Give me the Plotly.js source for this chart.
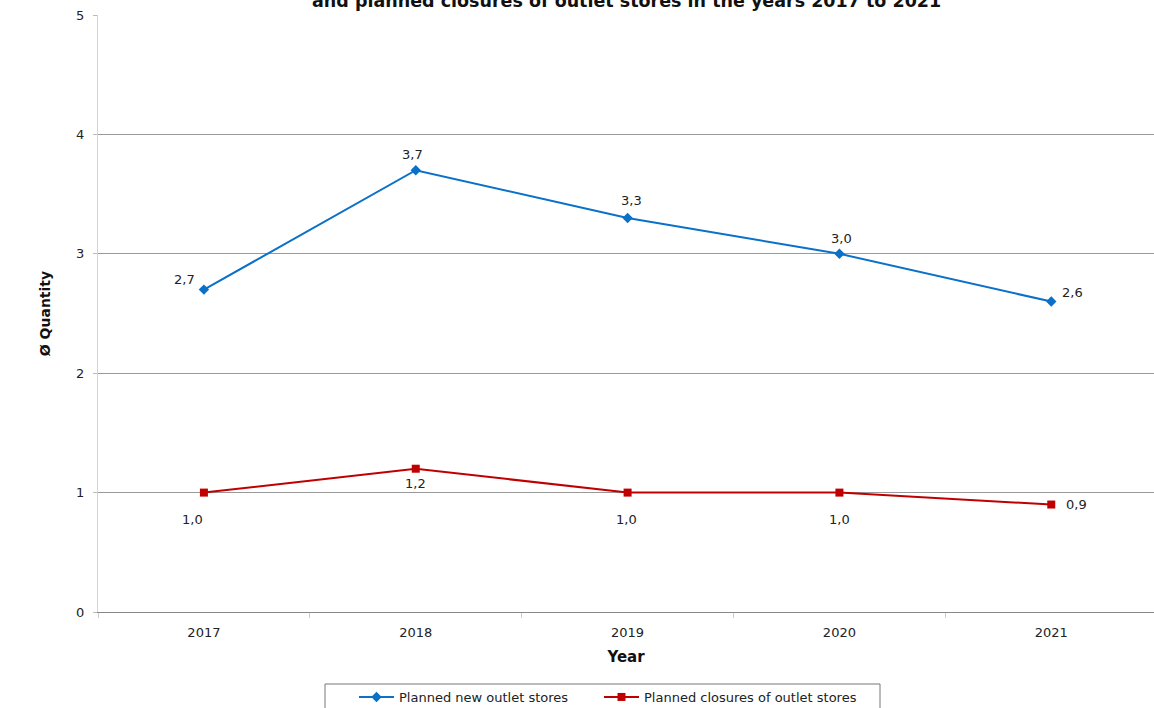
<!DOCTYPE html>
<html>
<head>
<meta charset="utf-8">
<script src="https://cdn.plot.ly/plotly-3.0.1.min.js"></script>
<style>html,body{margin:0;padding:0;background:#fff;}#chart{width:1154px;height:708px;}</style>
</head>
<body>
<div id="chart"></div>
<script>
const years = ["2017", "2018", "2019", "2020", "2021"];
const plannedNew = [2.7, 3.7, 3.3, 3.0, 2.6];
const plannedClosures = [1.0, 1.2, 1.0, 1.0, 0.9];
const seriesNames = ["Planned new outlet stores", "Planned closures of outlet stores"];
const titleText = "and planned closures of outlet stores in the years 2017 to 2021";

// label pixel offsets (style only)
const newLabelShift = [[-19, 10], [-3, 16], [4, 17], [2, 15], [21, 9]];
const closLabelShift = [[-11, -27], [0, -15], [-1, -27], [0, -27], [25, 0]];

const FONT = "DejaVu Sans, Verdana, sans-serif";
const BLUE = "#0A70C8", RED = "#C00000";

const traces = [
  {
    x: years, y: plannedNew, name: seriesNames[0], type: "scatter", mode: "lines+markers",
    line: {color: BLUE, width: 2},
    marker: {symbol: "diamond", size: 8, color: BLUE},
    legend: "legend"
  },
  {
    x: years, y: plannedClosures, name: seriesNames[1], type: "scatter", mode: "lines+markers",
    line: {color: RED, width: 2},
    marker: {symbol: "square", size: 8, color: RED},
    legend: "legend2"
  }
];

function fmt(v) { return v.toFixed(1).replace(".", ","); }

const annotations = [];
years.forEach((yr, i) => {
  annotations.push({x: i, y: plannedNew[i], xref: "x", yref: "y", text: fmt(plannedNew[i]),
    showarrow: false, xshift: newLabelShift[i][0], yshift: newLabelShift[i][1],
    font: {family: FONT, size: 13, color: "#222"}});
  annotations.push({x: i, y: plannedClosures[i], xref: "x", yref: "y", text: fmt(plannedClosures[i]),
    showarrow: false, xshift: closLabelShift[i][0], yshift: closLabelShift[i][1],
    font: {family: FONT, size: 13, color: "#222"}});
});
annotations.push({
  text: "<b>" + titleText + "</b>", xref: "paper", yref: "paper",
  x: 0.5, y: 1, xanchor: "center", yanchor: "bottom", yshift: 2,
  showarrow: false, font: {family: FONT, size: 17.5, color: "#111"}
});

// px -> paper helpers for the legend frame
const PL = 98, PW = 1056, PT = 15, PH = 597;
const px2x = p => (p - PL) / PW;
const px2y = p => (PT + PH - p) / PH;

const legendBase = {
  orientation: "h", xanchor: "left", y: px2y(682), yanchor: "top",
  borderwidth: 0, bgcolor: "rgba(0,0,0,0)",
  font: {family: FONT, size: 13, color: "#222"},
  itemwidth: 35
};

const layout = {
  width: 1154, height: 708,
  margin: {l: PL, r: 0, t: PT, b: 96, autoexpand: false},
  paper_bgcolor: "#fff", plot_bgcolor: "#fff",
  separators: ",.",
  font: {family: FONT, size: 13, color: "#222"},
  showlegend: true,
  legend: Object.assign({}, legendBase, {x: px2x(354)}),
  legend2: Object.assign({}, legendBase, {x: px2x(599)}),
  shapes: [
    {type: "rect", xref: "paper", yref: "paper",
     x0: px2x(325), x1: px2x(880), y0: px2y(684), y1: px2y(720),
     line: {color: "#777", width: 1}, fillcolor: "rgba(0,0,0,0)", layer: "below"}
  ],
  xaxis: {
    type: "category", range: [-0.5, 4.485],
    showgrid: false, zeroline: false,
    showline: true, linecolor: "#888", linewidth: 1,
    ticks: "outside", tickson: "boundaries", ticklen: 5, tickcolor: "#ccc",
    ticklabelstandoff: 8,
    tickfont: {family: FONT, size: 13, color: "#222"},
    title: {text: "Year", font: {family: FONT, size: 15, color: "#111", weight: "bold"}, standoff: 12}
  },
  yaxis: {
    range: [0, 5], dtick: 1, tick0: 0,
    showgrid: true, gridcolor: "#999", gridwidth: 1,
    zeroline: false,
    showline: true, linecolor: "#d4d4d4", linewidth: 1,
    ticks: "outside", ticklen: 4, tickcolor: "#bbb",
    ticklabelstandoff: 6,
    tickfont: {family: FONT, size: 13, color: "#222"},
    title: {text: "Ø Quantity", font: {family: FONT, size: 14, color: "#111", weight: "bold"}, standoff: 22}
  },
  annotations: annotations
};

Plotly.newPlot("chart", traces, layout, {displayModeBar: false, staticPlot: true});
</script>
</body>
</html>
